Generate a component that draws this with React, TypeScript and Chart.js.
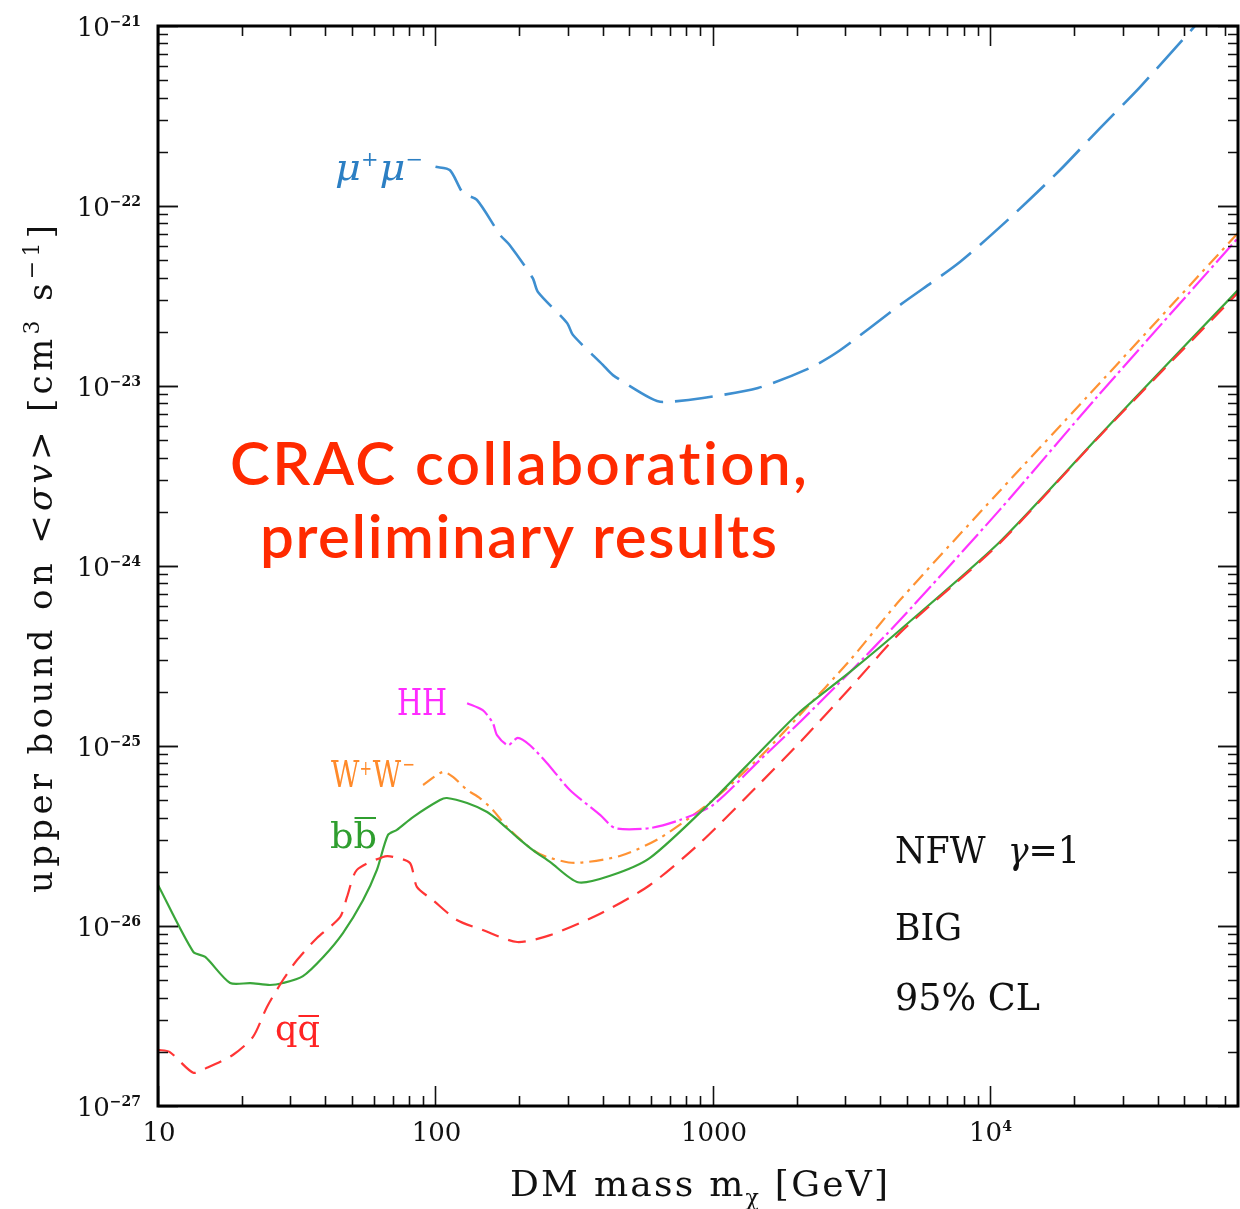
import { useEffect, useRef } from "react";
import { Chart, registerables } from "chart.js";

Chart.register(...registerables);

// ---- data (DM mass in GeV, upper bound on <sigma v> in cm^3 s^-1) ----
const massMuMu = [100, 112.8, 125.7, 141, 171, 185, 224, 234, 298, 313, 401, 436, 593, 661, 921, 1453, 2238, 2870, 4721, 7762, 11750, 17780, 24830, 34590, 54580, 90000];
const sigmaMuMu = [1.65e-22, 1.58e-22, 1.18e-22, 1.08e-22, 6.9e-23, 6.07e-23, 3.98e-23, 3.33e-23, 2.24e-23, 1.92e-23, 1.31e-23, 1.15e-23, 8.58e-24, 8.15e-24, 8.58e-24, 9.75e-24, 1.26e-23, 1.58e-23, 2.82e-23, 4.89e-23, 8.58e-23, 1.58e-22, 2.71e-22, 4.58e-22, 1e-21, 2.35e-21];

const massBB = [10, 13.4, 14.8, 18.2, 21.5, 25.3, 28.2, 33.3, 39.4, 46.4, 54.8, 61.5, 67.4, 72.6, 83, 103.8, 110, 130, 153.5, 170.8, 196.6, 224.5, 258.6, 326, 426, 593, 1000, 1477, 2059, 3120, 4721, 10800, 24830, 32660, 78000];
const sigmaBB = [1.69e-26, 7.18e-27, 6.73e-27, 4.82e-27, 4.82e-27, 4.7e-27, 4.82e-27, 5.27e-27, 6.73e-27, 9.14e-27, 1.39e-26, 2.05e-26, 3.2e-26, 3.42e-26, 4.03e-26, 5.01e-26, 5.14e-26, 4.82e-26, 4.3e-26, 3.78e-26, 3.12e-26, 2.64e-26, 2.27e-26, 1.75e-26, 1.9e-26, 2.39e-26, 5.01e-26, 9.27e-26, 1.55e-25, 2.58e-25, 4.41e-25, 1.36e-24, 5.34e-24, 8.36e-24, 3.41e-23];

const massQQ = [10, 11, 13.4, 15, 18.6, 22, 24.7, 28.2, 31.7, 37.4, 45.3, 48, 52.1, 64.7, 70.3, 80.9, 85.7, 98, 119.4, 148, 197, 259, 392, 593, 898, 1477, 2059, 3120, 4721, 10800, 24830, 78000];
const sigmaQQ = [2.05e-27, 2.0e-27, 1.53e-27, 1.63e-27, 1.92e-27, 2.42e-27, 3.55e-27, 5.01e-27, 6.47e-27, 8.58e-27, 1.12e-26, 1.45e-26, 2.05e-26, 2.42e-26, 2.42e-26, 2.24e-26, 1.65e-26, 1.39e-26, 1.08e-26, 9.5e-27, 8.15e-27, 8.9e-27, 1.17e-26, 1.69e-26, 2.89e-26, 6.2e-26, 1.05e-25, 2.1e-25, 4.25e-25, 1.34e-24, 5.3e-24, 3.3e-23];

const massWW = [90.2, 106.4, 115.6, 130, 144.5, 161, 181, 224.5, 252, 318, 462, 644, 1000, 1477, 2059, 3120, 4721, 10800, 22280, 78000];
const sigmaWW = [6.07e-26, 7.18e-26, 6.73e-26, 5.7e-26, 5.14e-26, 4.41e-26, 3.55e-26, 2.64e-26, 2.42e-26, 2.24e-26, 2.45e-26, 3.08e-26, 5.01e-26, 8.69e-26, 1.49e-25, 3.0e-25, 6.47e-25, 2.61e-24, 8.69e-24, 7.08e-23];

const massHH = [130, 148, 161, 166.6, 182.6, 198, 219, 252, 305, 392, 444, 593, 760, 1000, 1477, 2059, 3120, 4721, 10800, 24210, 78000];
const sigmaHH = [1.73e-25, 1.58e-25, 1.34e-25, 1.15e-25, 1.01e-25, 1.11e-25, 1.01e-25, 8.05e-26, 5.7e-26, 4.14e-26, 3.5e-26, 3.5e-26, 3.88e-26, 4.7e-26, 8.36e-26, 1.36e-25, 2.58e-25, 5.01e-25, 2.05e-24, 8.69e-24, 6.64e-23];

const xMin = 10;
const xMax = 78000;
const yMin = 1e-27;
const yMax = 1e-21;
const xMajorTicks = [10, 100, 1000, 10000];
const xTickLabels = ["10", "100", "1000", "10^4"];
const yMajorExponents = [-27, -26, -25, -24, -23, -22, -21];

// ---- drawing helpers ----
type Seg = { t: string; font: string; dy?: number; over?: number; gap?: number };

function drawRich(
  ctx: CanvasRenderingContext2D,
  segs: Seg[],
  x: number,
  y: number,
  color: string,
  align: "left" | "center" | "right" = "left",
  target?: number,
  mode: "space" | "scale" = "space"
) {
  ctx.save();
  ctx.fillStyle = color;
  ctx.strokeStyle = color;
  ctx.textAlign = "left";
  ctx.textBaseline = "alphabetic";
  (ctx as any).letterSpacing = "0px";
  let total = 0;
  let nChars = 0;
  const ws = segs.map((s) => {
    ctx.font = s.font;
    const w = ctx.measureText(s.t).width + (s.gap || 0);
    total += w;
    nChars += [...s.t].length;
    return w;
  });
  let ls = 0;
  let sx = 1;
  if (target !== undefined) {
    if (mode === "space") ls = (target - total) / Math.max(1, nChars - 1);
    else sx = target / total;
  }
  const fullW = (total + ls * (nChars - 1)) * sx;
  const startX = align === "center" ? x - fullW / 2 : align === "right" ? x - fullW : x;
  ctx.translate(startX, y);
  ctx.scale(sx, 1);
  let cx = 0;
  (ctx as any).letterSpacing = ls + "px";
  segs.forEach((s, i) => {
    ctx.font = s.font;
    ctx.fillText(s.t, cx, s.dy || 0);
    if (s.over !== undefined) {
      ctx.lineWidth = 2;
      ctx.beginPath();
      ctx.moveTo(cx + 1, s.over);
      ctx.lineTo(cx + ws[i] - 1, s.over);
      ctx.stroke();
    }
    cx += ws[i] + ls * [...s.t].length;
  });
  ctx.restore();
}

const SERIF = "'DejaVu Serif'";

const framePlugin = {
  id: "frameTicks",
  afterDatasetsDraw(chart: any) {
    const ctx: CanvasRenderingContext2D = chart.ctx;
    const { left, right, top, bottom } = chart.chartArea;
    const xs = chart.scales.x;
    const ys = chart.scales.y;
    ctx.save();
    ctx.strokeStyle = "#111";
    ctx.lineWidth = 1.6;
    for (let d = 1; d <= 4; d++) {
      const base = Math.pow(10, d);
      for (let k = 1; k <= 9; k++) {
        const v = base * k;
        if (v < xMin || v > xMax) continue;
        const px = Math.round(xs.getPixelForValue(v)) + 0.5;
        const len = k === 1 ? 20 : 10;
        ctx.beginPath();
        ctx.moveTo(px, bottom);
        ctx.lineTo(px, bottom - len);
        ctx.moveTo(px, top);
        ctx.lineTo(px, top + len);
        ctx.stroke();
      }
    }
    for (let e = -27; e <= -22; e++) {
      for (let k = 1; k <= 10; k++) {
        const v = k * Math.pow(10, e);
        if (v < yMin * 0.999 || v > yMax * 1.001) continue;
        const py = Math.round(ys.getPixelForValue(v)) + 0.5;
        const len = k === 1 || k === 10 ? 20 : 10;
        ctx.beginPath();
        ctx.moveTo(left, py);
        ctx.lineTo(left + len, py);
        ctx.moveTo(right, py);
        ctx.lineTo(right - len, py);
        ctx.stroke();
      }
    }
    ctx.lineWidth = 3;
    ctx.strokeStyle = "#000";
    ctx.strokeRect(left, top, right - left, bottom - top);
    ctx.restore();

    yMajorExponents.forEach((e) => {
      const py = ys.getPixelForValue(Math.pow(10, e));
      drawRich(
        ctx,
        [
          { t: "10", font: `26px ${SERIF}` },
          { t: "\u2212" + String(-e), font: `bold 14px ${SERIF}`, dy: -10 },
        ],
        141,
        py + 10,
        "#111",
        "right"
      );
    });
    xMajorTicks.forEach((v, i) => {
      const px = xs.getPixelForValue(v);
      const lab = xTickLabels[i];
      if (lab.includes("^")) {
        const [b, p] = lab.split("^");
        drawRich(
          ctx,
          [
            { t: b, font: `26px ${SERIF}` },
            { t: p, font: `bold 14px ${SERIF}`, dy: -10 },
          ],
          px,
          1141,
          "#111",
          "center"
        );
      } else {
        drawRich(ctx, [{ t: lab, font: `26px ${SERIF}` }], px + 1, 1141, "#111", "center");
      }
    });
  },
  afterDraw(chart: any) {
    const ctx: CanvasRenderingContext2D = chart.ctx;
    drawRich(
      ctx,
      [
        { t: "DM mass m", font: `36px ${SERIF}` },
        { t: "\u03c7", font: `22px ${SERIF}`, dy: 9 },
        { t: " [GeV]", font: `36px ${SERIF}` },
      ],
      510,
      1196,
      "#111",
      "left",
      378
    );
    ctx.save();
    ctx.translate(52, 893);
    ctx.rotate(-Math.PI / 2);
    drawRich(
      ctx,
      [
        { t: "upper bound on <", font: `34px ${SERIF}` },
        { t: "\u03c3v", font: `italic 34px ${SERIF}` },
        { t: "> [cm", font: `34px ${SERIF}` },
        { t: "3", font: `22px ${SERIF}`, dy: -13 },
        { t: " s", font: `34px ${SERIF}` },
        { t: "\u22121", font: `22px ${SERIF}`, dy: -13 },
        { t: "]", font: `34px ${SERIF}` },
      ],
      0,
      0,
      "#111",
      "left",
      668
    );
    ctx.restore();

    // channel labels
    drawRich(
      ctx,
      [
        { t: "\u03bc", font: `italic 38px ${SERIF}` },
        { t: "+", font: `20px ${SERIF}`, dy: -14, gap: 1 },
        { t: "\u03bc", font: `italic 38px ${SERIF}` },
        { t: "\u2212", font: `20px ${SERIF}`, dy: -14 },
      ],
      335,
      180,
      "#2c7fc3",
      "left",
      88,
      "scale"
    );
    drawRich(ctx, [{ t: "HH", font: `38px ${SERIF}` }], 397, 715, "#ff2cff", "left", 50, "scale");
    drawRich(
      ctx,
      [
        { t: "W", font: `37px ${SERIF}` },
        { t: "+", font: `20px ${SERIF}`, dy: -12, gap: 1 },
        { t: "W", font: `37px ${SERIF}`, gap: 2 },
        { t: "\u2212", font: `20px ${SERIF}`, dy: -16 },
      ],
      331,
      787,
      "#ff8a2a",
      "left",
      84,
      "scale"
    );
    drawRich(
      ctx,
      [
        { t: "b", font: `36px ${SERIF}` },
        { t: "b", font: `36px ${SERIF}`, over: -30 },
      ],
      330,
      848,
      "#2f9e2f",
      "left",
      47,
      "scale"
    );
    drawRich(
      ctx,
      [
        { t: "q", font: `36px ${SERIF}` },
        { t: "q", font: `36px ${SERIF}`, over: -24 },
      ],
      275,
      1040,
      "#ff2424",
      "left",
      45,
      "scale"
    );

    // model info
    drawRich(
      ctx,
      [
        { t: "NFW  ", font: `38px ${SERIF}` },
        { t: "\u03b3", font: `italic 38px ${SERIF}` },
        { t: "=1", font: `38px ${SERIF}` },
      ],
      895,
      863,
      "#111",
      "left",
      185,
      "scale"
    );
    drawRich(ctx, [{ t: "BIG", font: `38px ${SERIF}` }], 895, 940, "#111", "left", 67, "scale");
    drawRich(ctx, [{ t: "95% CL", font: `38px ${SERIF}` }], 895, 1010, "#111", "left", 145, "scale");

    // overlay
    drawRich(ctx, [{ t: "CRAC collaboration,", font: `600 60px Lato` }], 230, 485, "#ff2a00", "left", 578);
    drawRich(ctx, [{ t: "preliminary results", font: `600 60px Lato` }], 260, 558, "#ff2a00", "left", 517);
  },
};

function pts(xs: number[], ys: number[]) {
  return xs.map((x, i) => ({ x, y: ys[i] }));
}

export default function App() {
  const ref = useRef<HTMLCanvasElement | null>(null);
  useEffect(() => {
    if (!ref.current) return;
    const common = { pointRadius: 0, fill: false, tension: 0.25 };
    const chart = new Chart(ref.current, {
      type: "line",
      data: {
        datasets: [
          { ...common, label: "mumu", data: pts(massMuMu, sigmaMuMu), borderColor: "#3e8fd0", borderWidth: 2.6, borderDash: [38, 12] },
          { ...common, label: "qq", data: pts(massQQ, sigmaQQ), borderColor: "#ff3535", borderWidth: 2.2, borderDash: [18, 10] },
          { ...common, label: "bb", data: pts(massBB, sigmaBB), borderColor: "#3aa63a", borderWidth: 2.2 },
          { ...common, label: "HH", data: pts(massHH, sigmaHH), borderColor: "#ff33ff", borderWidth: 2.2, borderDash: [24, 4, 3, 4] },
          { ...common, label: "WW", data: pts(massWW, sigmaWW), borderColor: "#ff9233", borderWidth: 2.2, borderDash: [14, 6, 3, 6] },
        ],
      },
      options: {
        animation: false,
        responsive: false,
        maintainAspectRatio: false,
        layout: { padding: { left: 158, right: 2, top: 26, bottom: 103 } },
        plugins: { legend: { display: false }, tooltip: { enabled: false } },
        scales: {
          x: { type: "logarithmic", min: xMin, max: xMax, display: false },
          y: { type: "logarithmic", min: yMin, max: yMax, display: false },
        },
      },
      plugins: [framePlugin],
    });
    return () => chart.destroy();
  }, []);
  return (
    <div style={{ position: "absolute", left: 0, top: 0, width: 1240, height: 1209, background: "#fff" }}>
      <canvas ref={ref} width={1240} height={1209} style={{ display: "block" }} />
    </div>
  );
}
